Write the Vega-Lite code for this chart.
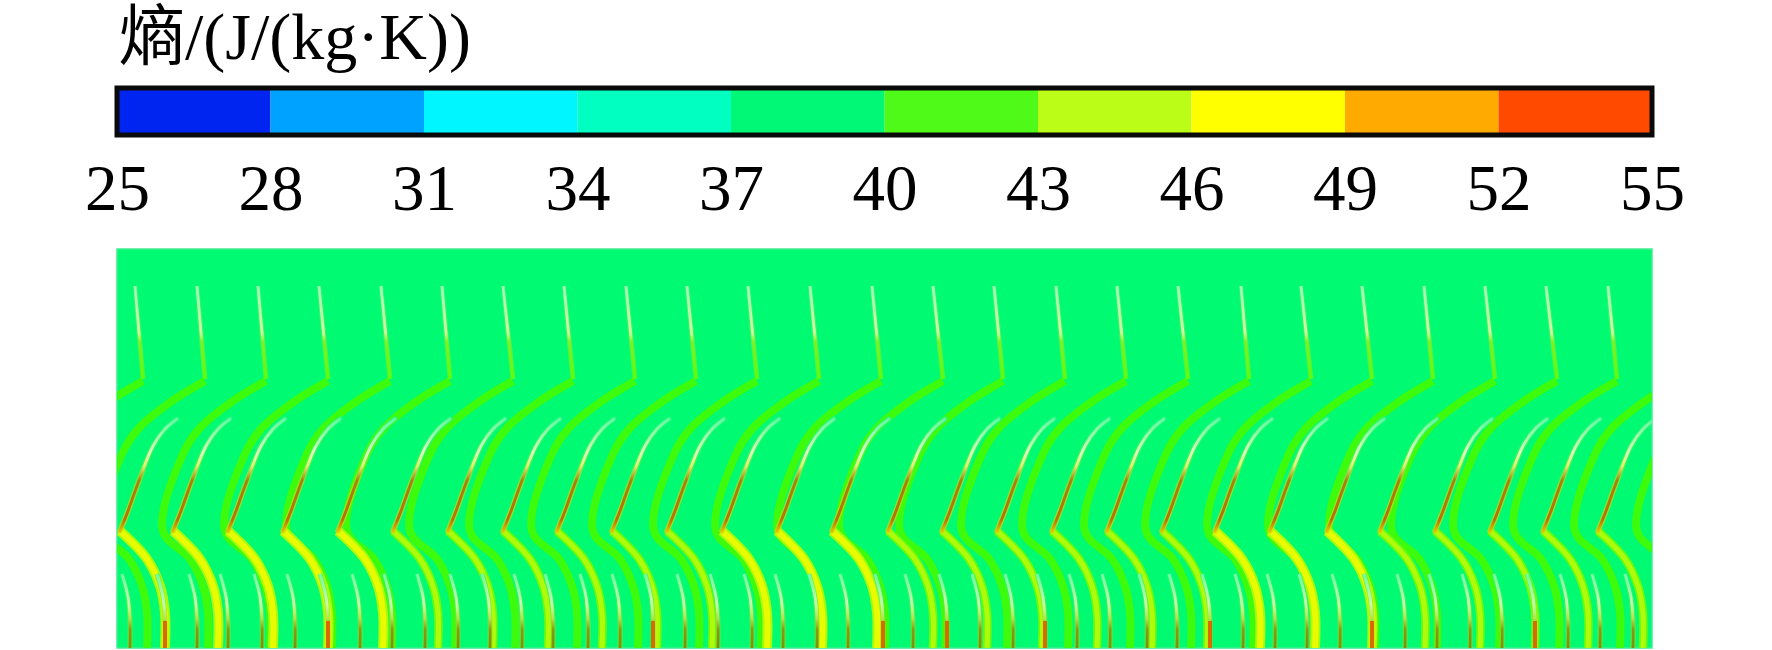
{"$schema":"https://vega.github.io/schema/vega-lite/v6.json","background":"white","padding":{"left":84,"top":5,"right":5,"bottom":2},"bounds":"flush","spacing":114,"config":{"view":{"stroke":null}},
"datasets":{
"top":[
{"l":1,"x":135,"y":285},{"l":1,"x":143,"y":378},{"l":2,"x":197,"y":285},{"l":2,"x":205,"y":378},{"l":3,"x":258,"y":285},{"l":3,"x":266,"y":378},{"l":4,"x":319,"y":285},{"l":4,"x":328,"y":378},{"l":5,"x":381,"y":285},{"l":5,"x":390,"y":378},{"l":6,"x":442,"y":285},{"l":6,"x":450,"y":378},{"l":7,"x":503,"y":285},{"l":7,"x":513,"y":378},{"l":8,"x":564,"y":285},{"l":8,"x":573,"y":378},{"l":9,"x":626,"y":285},{"l":9,"x":635,"y":378},{"l":10,"x":687,"y":285},{"l":10,"x":696,"y":378},{"l":11,"x":748,"y":285},{"l":11,"x":757,"y":378},{"l":12,"x":810,"y":285},{"l":12,"x":819,"y":378},{"l":13,"x":872,"y":285},{"l":13,"x":881,"y":378},{"l":14,"x":933,"y":285},{"l":14,"x":943,"y":378},{"l":15,"x":994,"y":285},{"l":15,"x":1003,"y":378},{"l":16,"x":1056,"y":285},{"l":16,"x":1065,"y":378},{"l":17,"x":1117,"y":285},{"l":17,"x":1126,"y":378},{"l":18,"x":1178,"y":285},{"l":18,"x":1188,"y":378},{"l":19,"x":1241,"y":285},{"l":19,"x":1249,"y":378},{"l":20,"x":1301,"y":285},{"l":20,"x":1311,"y":378},{"l":21,"x":1362,"y":285},{"l":21,"x":1372,"y":378},{"l":22,"x":1424,"y":285},{"l":22,"x":1433,"y":378},{"l":23,"x":1485,"y":285},{"l":23,"x":1495,"y":378},{"l":24,"x":1546,"y":285},{"l":24,"x":1557,"y":378},{"l":25,"x":1608,"y":285},{"l":25,"x":1617,"y":378}],
"wake":[
{"l":1,"x":143,"y":380},{"l":1,"x":110,"y":400},{"l":1,"x":77,"y":427},{"l":1,"x":60,"y":453},{"l":1,"x":40,"y":530},{"l":1,"x":67,"y":558},{"l":1,"x":80,"y":585},{"l":1,"x":85,"y":612},{"l":1,"x":85,"y":647},
{"l":2,"x":205,"y":380},{"l":2,"x":172,"y":400},{"l":2,"x":139,"y":427},{"l":2,"x":122,"y":453},{"l":2,"x":102,"y":530},{"l":2,"x":129,"y":558},{"l":2,"x":142,"y":585},{"l":2,"x":147,"y":612},{"l":2,"x":147,"y":647},
{"l":3,"x":266,"y":380},{"l":3,"x":233,"y":400},{"l":3,"x":200,"y":427},{"l":3,"x":183,"y":453},{"l":3,"x":163,"y":530},{"l":3,"x":190,"y":558},{"l":3,"x":203,"y":585},{"l":3,"x":208,"y":612},{"l":3,"x":208,"y":647},
{"l":4,"x":328,"y":380},{"l":4,"x":295,"y":400},{"l":4,"x":262,"y":427},{"l":4,"x":245,"y":453},{"l":4,"x":225,"y":530},{"l":4,"x":252,"y":558},{"l":4,"x":265,"y":585},{"l":4,"x":270,"y":612},{"l":4,"x":270,"y":647},
{"l":5,"x":390,"y":380},{"l":5,"x":357,"y":400},{"l":5,"x":324,"y":427},{"l":5,"x":307,"y":453},{"l":5,"x":287,"y":530},{"l":5,"x":314,"y":558},{"l":5,"x":327,"y":585},{"l":5,"x":332,"y":612},{"l":5,"x":332,"y":647},
{"l":6,"x":450,"y":380},{"l":6,"x":417,"y":400},{"l":6,"x":384,"y":427},{"l":6,"x":367,"y":453},{"l":6,"x":347,"y":530},{"l":6,"x":374,"y":558},{"l":6,"x":387,"y":585},{"l":6,"x":392,"y":612},{"l":6,"x":392,"y":647},
{"l":7,"x":513,"y":380},{"l":7,"x":480,"y":400},{"l":7,"x":447,"y":427},{"l":7,"x":430,"y":453},{"l":7,"x":410,"y":530},{"l":7,"x":437,"y":558},{"l":7,"x":450,"y":585},{"l":7,"x":455,"y":612},{"l":7,"x":455,"y":647},
{"l":8,"x":573,"y":380},{"l":8,"x":540,"y":400},{"l":8,"x":507,"y":427},{"l":8,"x":490,"y":453},{"l":8,"x":470,"y":530},{"l":8,"x":497,"y":558},{"l":8,"x":510,"y":585},{"l":8,"x":515,"y":612},{"l":8,"x":515,"y":647},
{"l":9,"x":635,"y":380},{"l":9,"x":602,"y":400},{"l":9,"x":569,"y":427},{"l":9,"x":552,"y":453},{"l":9,"x":532,"y":530},{"l":9,"x":559,"y":558},{"l":9,"x":572,"y":585},{"l":9,"x":577,"y":612},{"l":9,"x":577,"y":647},
{"l":10,"x":696,"y":380},{"l":10,"x":663,"y":400},{"l":10,"x":630,"y":427},{"l":10,"x":613,"y":453},{"l":10,"x":593,"y":530},{"l":10,"x":620,"y":558},{"l":10,"x":633,"y":585},{"l":10,"x":638,"y":612},{"l":10,"x":638,"y":647},
{"l":11,"x":757,"y":380},{"l":11,"x":724,"y":400},{"l":11,"x":691,"y":427},{"l":11,"x":674,"y":453},{"l":11,"x":654,"y":530},{"l":11,"x":681,"y":558},{"l":11,"x":694,"y":585},{"l":11,"x":699,"y":612},{"l":11,"x":699,"y":647},
{"l":12,"x":819,"y":380},{"l":12,"x":786,"y":400},{"l":12,"x":753,"y":427},{"l":12,"x":736,"y":453},{"l":12,"x":716,"y":530},{"l":12,"x":743,"y":558},{"l":12,"x":756,"y":585},{"l":12,"x":761,"y":612},{"l":12,"x":761,"y":647},
{"l":13,"x":881,"y":380},{"l":13,"x":848,"y":400},{"l":13,"x":815,"y":427},{"l":13,"x":798,"y":453},{"l":13,"x":778,"y":530},{"l":13,"x":805,"y":558},{"l":13,"x":818,"y":585},{"l":13,"x":823,"y":612},{"l":13,"x":823,"y":647},
{"l":14,"x":943,"y":380},{"l":14,"x":910,"y":400},{"l":14,"x":877,"y":427},{"l":14,"x":860,"y":453},{"l":14,"x":840,"y":530},{"l":14,"x":867,"y":558},{"l":14,"x":880,"y":585},{"l":14,"x":885,"y":612},{"l":14,"x":885,"y":647},
{"l":15,"x":1003,"y":380},{"l":15,"x":970,"y":400},{"l":15,"x":937,"y":427},{"l":15,"x":920,"y":453},{"l":15,"x":900,"y":530},{"l":15,"x":927,"y":558},{"l":15,"x":940,"y":585},{"l":15,"x":945,"y":612},{"l":15,"x":945,"y":647},
{"l":16,"x":1065,"y":380},{"l":16,"x":1032,"y":400},{"l":16,"x":999,"y":427},{"l":16,"x":982,"y":453},{"l":16,"x":962,"y":530},{"l":16,"x":989,"y":558},{"l":16,"x":1002,"y":585},{"l":16,"x":1007,"y":612},{"l":16,"x":1007,"y":647},
{"l":17,"x":1126,"y":380},{"l":17,"x":1093,"y":400},{"l":17,"x":1060,"y":427},{"l":17,"x":1043,"y":453},{"l":17,"x":1023,"y":530},{"l":17,"x":1050,"y":558},{"l":17,"x":1063,"y":585},{"l":17,"x":1068,"y":612},{"l":17,"x":1068,"y":647},
{"l":18,"x":1188,"y":380},{"l":18,"x":1155,"y":400},{"l":18,"x":1122,"y":427},{"l":18,"x":1105,"y":453},{"l":18,"x":1085,"y":530},{"l":18,"x":1112,"y":558},{"l":18,"x":1125,"y":585},{"l":18,"x":1130,"y":612},{"l":18,"x":1130,"y":647},
{"l":19,"x":1249,"y":380},{"l":19,"x":1216,"y":400},{"l":19,"x":1183,"y":427},{"l":19,"x":1166,"y":453},{"l":19,"x":1146,"y":530},{"l":19,"x":1173,"y":558},{"l":19,"x":1186,"y":585},{"l":19,"x":1191,"y":612},{"l":19,"x":1191,"y":647},
{"l":20,"x":1311,"y":380},{"l":20,"x":1278,"y":400},{"l":20,"x":1245,"y":427},{"l":20,"x":1228,"y":453},{"l":20,"x":1208,"y":530},{"l":20,"x":1235,"y":558},{"l":20,"x":1248,"y":585},{"l":20,"x":1253,"y":612},{"l":20,"x":1253,"y":647},
{"l":21,"x":1372,"y":380},{"l":21,"x":1339,"y":400},{"l":21,"x":1306,"y":427},{"l":21,"x":1289,"y":453},{"l":21,"x":1269,"y":530},{"l":21,"x":1296,"y":558},{"l":21,"x":1309,"y":585},{"l":21,"x":1314,"y":612},{"l":21,"x":1314,"y":647},
{"l":22,"x":1433,"y":380},{"l":22,"x":1400,"y":400},{"l":22,"x":1367,"y":427},{"l":22,"x":1350,"y":453},{"l":22,"x":1330,"y":530},{"l":22,"x":1357,"y":558},{"l":22,"x":1370,"y":585},{"l":22,"x":1375,"y":612},{"l":22,"x":1375,"y":647},
{"l":23,"x":1495,"y":380},{"l":23,"x":1462,"y":400},{"l":23,"x":1429,"y":427},{"l":23,"x":1412,"y":453},{"l":23,"x":1392,"y":530},{"l":23,"x":1419,"y":558},{"l":23,"x":1432,"y":585},{"l":23,"x":1437,"y":612},{"l":23,"x":1437,"y":647},
{"l":24,"x":1557,"y":380},{"l":24,"x":1524,"y":400},{"l":24,"x":1491,"y":427},{"l":24,"x":1474,"y":453},{"l":24,"x":1454,"y":530},{"l":24,"x":1481,"y":558},{"l":24,"x":1494,"y":585},{"l":24,"x":1499,"y":612},{"l":24,"x":1499,"y":647},
{"l":25,"x":1617,"y":380},{"l":25,"x":1584,"y":400},{"l":25,"x":1551,"y":427},{"l":25,"x":1534,"y":453},{"l":25,"x":1514,"y":530},{"l":25,"x":1541,"y":558},{"l":25,"x":1554,"y":585},{"l":25,"x":1559,"y":612},{"l":25,"x":1559,"y":647},
{"l":26,"x":1678,"y":380},{"l":26,"x":1645,"y":400},{"l":26,"x":1612,"y":427},{"l":26,"x":1595,"y":453},{"l":26,"x":1575,"y":530},{"l":26,"x":1602,"y":558},{"l":26,"x":1615,"y":585},{"l":26,"x":1620,"y":612},{"l":26,"x":1620,"y":647},
{"l":27,"x":1740,"y":380},{"l":27,"x":1707,"y":400},{"l":27,"x":1674,"y":427},{"l":27,"x":1657,"y":453},{"l":27,"x":1637,"y":530},{"l":27,"x":1664,"y":558},{"l":27,"x":1677,"y":585},{"l":27,"x":1682,"y":612},{"l":27,"x":1682,"y":647}],
"strong":[
{"l":1,"x":120,"y":530},{"l":1,"x":147,"y":558},{"l":1,"x":160,"y":585},{"l":1,"x":165,"y":612},{"l":1,"x":165,"y":647},
{"l":2,"x":173,"y":530},{"l":2,"x":200,"y":558},{"l":2,"x":213,"y":585},{"l":2,"x":218,"y":612},{"l":2,"x":218,"y":647},
{"l":3,"x":228,"y":530},{"l":3,"x":255,"y":558},{"l":3,"x":268,"y":585},{"l":3,"x":273,"y":612},{"l":3,"x":273,"y":647},
{"l":4,"x":283,"y":530},{"l":4,"x":310,"y":558},{"l":4,"x":323,"y":585},{"l":4,"x":328,"y":612},{"l":4,"x":328,"y":647},
{"l":5,"x":338,"y":530},{"l":5,"x":365,"y":558},{"l":5,"x":378,"y":585},{"l":5,"x":383,"y":612},{"l":5,"x":383,"y":647},
{"l":6,"x":722,"y":530},{"l":6,"x":749,"y":558},{"l":6,"x":762,"y":585},{"l":6,"x":767,"y":612},{"l":6,"x":767,"y":647},
{"l":7,"x":777,"y":530},{"l":7,"x":804,"y":558},{"l":7,"x":817,"y":585},{"l":7,"x":822,"y":612},{"l":7,"x":822,"y":647},
{"l":8,"x":832,"y":530},{"l":8,"x":859,"y":558},{"l":8,"x":872,"y":585},{"l":8,"x":877,"y":612},{"l":8,"x":877,"y":647},
{"l":9,"x":1215,"y":530},{"l":9,"x":1242,"y":558},{"l":9,"x":1255,"y":585},{"l":9,"x":1260,"y":612},{"l":9,"x":1260,"y":647},
{"l":10,"x":1270,"y":530},{"l":10,"x":1297,"y":558},{"l":10,"x":1310,"y":585},{"l":10,"x":1315,"y":612},{"l":10,"x":1315,"y":647},
{"l":11,"x":1327,"y":530},{"l":11,"x":1354,"y":558},{"l":11,"x":1367,"y":585},{"l":11,"x":1372,"y":612},{"l":11,"x":1372,"y":647}],
"weak":[
{"l":1,"x":393,"y":530},{"l":1,"x":420,"y":558},{"l":1,"x":433,"y":585},{"l":1,"x":438,"y":612},{"l":1,"x":438,"y":647},
{"l":2,"x":448,"y":530},{"l":2,"x":475,"y":558},{"l":2,"x":488,"y":585},{"l":2,"x":493,"y":612},{"l":2,"x":493,"y":647},
{"l":3,"x":503,"y":530},{"l":3,"x":530,"y":558},{"l":3,"x":543,"y":585},{"l":3,"x":548,"y":612},{"l":3,"x":548,"y":647},
{"l":4,"x":557,"y":530},{"l":4,"x":584,"y":558},{"l":4,"x":597,"y":585},{"l":4,"x":602,"y":612},{"l":4,"x":602,"y":647},
{"l":5,"x":612,"y":530},{"l":5,"x":639,"y":558},{"l":5,"x":652,"y":585},{"l":5,"x":657,"y":612},{"l":5,"x":657,"y":647},
{"l":6,"x":667,"y":530},{"l":6,"x":694,"y":558},{"l":6,"x":707,"y":585},{"l":6,"x":712,"y":612},{"l":6,"x":712,"y":647},
{"l":7,"x":888,"y":530},{"l":7,"x":915,"y":558},{"l":7,"x":928,"y":585},{"l":7,"x":933,"y":612},{"l":7,"x":933,"y":647},
{"l":8,"x":942,"y":530},{"l":8,"x":969,"y":558},{"l":8,"x":982,"y":585},{"l":8,"x":987,"y":612},{"l":8,"x":987,"y":647},
{"l":9,"x":997,"y":530},{"l":9,"x":1024,"y":558},{"l":9,"x":1037,"y":585},{"l":9,"x":1042,"y":612},{"l":9,"x":1042,"y":647},
{"l":10,"x":1052,"y":530},{"l":10,"x":1079,"y":558},{"l":10,"x":1092,"y":585},{"l":10,"x":1097,"y":612},{"l":10,"x":1097,"y":647},
{"l":11,"x":1107,"y":530},{"l":11,"x":1134,"y":558},{"l":11,"x":1147,"y":585},{"l":11,"x":1152,"y":612},{"l":11,"x":1152,"y":647},
{"l":12,"x":1162,"y":530},{"l":12,"x":1189,"y":558},{"l":12,"x":1202,"y":585},{"l":12,"x":1207,"y":612},{"l":12,"x":1207,"y":647},
{"l":13,"x":1380,"y":530},{"l":13,"x":1407,"y":558},{"l":13,"x":1420,"y":585},{"l":13,"x":1425,"y":612},{"l":13,"x":1425,"y":647},
{"l":14,"x":1435,"y":530},{"l":14,"x":1462,"y":558},{"l":14,"x":1475,"y":585},{"l":14,"x":1480,"y":612},{"l":14,"x":1480,"y":647},
{"l":15,"x":1490,"y":530},{"l":15,"x":1517,"y":558},{"l":15,"x":1530,"y":585},{"l":15,"x":1535,"y":612},{"l":15,"x":1535,"y":647},
{"l":16,"x":1543,"y":530},{"l":16,"x":1570,"y":558},{"l":16,"x":1583,"y":585},{"l":16,"x":1588,"y":612},{"l":16,"x":1588,"y":647},
{"l":17,"x":1598,"y":530},{"l":17,"x":1625,"y":558},{"l":17,"x":1638,"y":585},{"l":17,"x":1643,"y":612},{"l":17,"x":1643,"y":647}],
"mid":[
{"l":1,"x":120,"y":530},{"l":1,"x":128,"y":510},{"l":1,"x":137,"y":485},{"l":1,"x":153,"y":445},{"l":1,"x":165,"y":428},{"l":1,"x":177,"y":418},
{"l":2,"x":173,"y":530},{"l":2,"x":181,"y":510},{"l":2,"x":190,"y":485},{"l":2,"x":206,"y":445},{"l":2,"x":218,"y":428},{"l":2,"x":230,"y":418},
{"l":3,"x":228,"y":530},{"l":3,"x":236,"y":510},{"l":3,"x":245,"y":485},{"l":3,"x":261,"y":445},{"l":3,"x":273,"y":428},{"l":3,"x":285,"y":418},
{"l":4,"x":283,"y":530},{"l":4,"x":291,"y":510},{"l":4,"x":300,"y":485},{"l":4,"x":316,"y":445},{"l":4,"x":328,"y":428},{"l":4,"x":340,"y":418},
{"l":5,"x":338,"y":530},{"l":5,"x":346,"y":510},{"l":5,"x":355,"y":485},{"l":5,"x":371,"y":445},{"l":5,"x":383,"y":428},{"l":5,"x":395,"y":418},
{"l":6,"x":393,"y":530},{"l":6,"x":401,"y":510},{"l":6,"x":410,"y":485},{"l":6,"x":426,"y":445},{"l":6,"x":438,"y":428},{"l":6,"x":450,"y":418},
{"l":7,"x":448,"y":530},{"l":7,"x":456,"y":510},{"l":7,"x":465,"y":485},{"l":7,"x":481,"y":445},{"l":7,"x":493,"y":428},{"l":7,"x":505,"y":418},
{"l":8,"x":503,"y":530},{"l":8,"x":511,"y":510},{"l":8,"x":520,"y":485},{"l":8,"x":536,"y":445},{"l":8,"x":548,"y":428},{"l":8,"x":560,"y":418},
{"l":9,"x":557,"y":530},{"l":9,"x":565,"y":510},{"l":9,"x":574,"y":485},{"l":9,"x":590,"y":445},{"l":9,"x":602,"y":428},{"l":9,"x":614,"y":418},
{"l":10,"x":612,"y":530},{"l":10,"x":620,"y":510},{"l":10,"x":629,"y":485},{"l":10,"x":645,"y":445},{"l":10,"x":657,"y":428},{"l":10,"x":669,"y":418},
{"l":11,"x":667,"y":530},{"l":11,"x":675,"y":510},{"l":11,"x":684,"y":485},{"l":11,"x":700,"y":445},{"l":11,"x":712,"y":428},{"l":11,"x":724,"y":418},
{"l":12,"x":722,"y":530},{"l":12,"x":730,"y":510},{"l":12,"x":739,"y":485},{"l":12,"x":755,"y":445},{"l":12,"x":767,"y":428},{"l":12,"x":779,"y":418},
{"l":13,"x":777,"y":530},{"l":13,"x":785,"y":510},{"l":13,"x":794,"y":485},{"l":13,"x":810,"y":445},{"l":13,"x":822,"y":428},{"l":13,"x":834,"y":418},
{"l":14,"x":832,"y":530},{"l":14,"x":840,"y":510},{"l":14,"x":849,"y":485},{"l":14,"x":865,"y":445},{"l":14,"x":877,"y":428},{"l":14,"x":889,"y":418},
{"l":15,"x":888,"y":530},{"l":15,"x":896,"y":510},{"l":15,"x":905,"y":485},{"l":15,"x":921,"y":445},{"l":15,"x":933,"y":428},{"l":15,"x":945,"y":418},
{"l":16,"x":942,"y":530},{"l":16,"x":950,"y":510},{"l":16,"x":959,"y":485},{"l":16,"x":975,"y":445},{"l":16,"x":987,"y":428},{"l":16,"x":999,"y":418},
{"l":17,"x":997,"y":530},{"l":17,"x":1005,"y":510},{"l":17,"x":1014,"y":485},{"l":17,"x":1030,"y":445},{"l":17,"x":1042,"y":428},{"l":17,"x":1054,"y":418},
{"l":18,"x":1052,"y":530},{"l":18,"x":1060,"y":510},{"l":18,"x":1069,"y":485},{"l":18,"x":1085,"y":445},{"l":18,"x":1097,"y":428},{"l":18,"x":1109,"y":418},
{"l":19,"x":1107,"y":530},{"l":19,"x":1115,"y":510},{"l":19,"x":1124,"y":485},{"l":19,"x":1140,"y":445},{"l":19,"x":1152,"y":428},{"l":19,"x":1164,"y":418},
{"l":20,"x":1162,"y":530},{"l":20,"x":1170,"y":510},{"l":20,"x":1179,"y":485},{"l":20,"x":1195,"y":445},{"l":20,"x":1207,"y":428},{"l":20,"x":1219,"y":418},
{"l":21,"x":1215,"y":530},{"l":21,"x":1223,"y":510},{"l":21,"x":1232,"y":485},{"l":21,"x":1248,"y":445},{"l":21,"x":1260,"y":428},{"l":21,"x":1272,"y":418},
{"l":22,"x":1270,"y":530},{"l":22,"x":1278,"y":510},{"l":22,"x":1287,"y":485},{"l":22,"x":1303,"y":445},{"l":22,"x":1315,"y":428},{"l":22,"x":1327,"y":418},
{"l":23,"x":1327,"y":530},{"l":23,"x":1335,"y":510},{"l":23,"x":1344,"y":485},{"l":23,"x":1360,"y":445},{"l":23,"x":1372,"y":428},{"l":23,"x":1384,"y":418},
{"l":24,"x":1380,"y":530},{"l":24,"x":1388,"y":510},{"l":24,"x":1397,"y":485},{"l":24,"x":1413,"y":445},{"l":24,"x":1425,"y":428},{"l":24,"x":1437,"y":418},
{"l":25,"x":1435,"y":530},{"l":25,"x":1443,"y":510},{"l":25,"x":1452,"y":485},{"l":25,"x":1468,"y":445},{"l":25,"x":1480,"y":428},{"l":25,"x":1492,"y":418},
{"l":26,"x":1490,"y":530},{"l":26,"x":1498,"y":510},{"l":26,"x":1507,"y":485},{"l":26,"x":1523,"y":445},{"l":26,"x":1535,"y":428},{"l":26,"x":1547,"y":418},
{"l":27,"x":1543,"y":530},{"l":27,"x":1551,"y":510},{"l":27,"x":1560,"y":485},{"l":27,"x":1576,"y":445},{"l":27,"x":1588,"y":428},{"l":27,"x":1600,"y":418},
{"l":28,"x":1598,"y":530},{"l":28,"x":1606,"y":510},{"l":28,"x":1615,"y":485},{"l":28,"x":1631,"y":445},{"l":28,"x":1643,"y":428},{"l":28,"x":1655,"y":418}],
"low":[
{"l":1,"x":122,"y":573},{"l":1,"x":128,"y":596},{"l":1,"x":130,"y":620},{"l":1,"x":130,"y":647},
{"l":2,"x":157,"y":573},{"l":2,"x":163,"y":596},{"l":2,"x":165,"y":620},{"l":2,"x":165,"y":647},
{"l":3,"x":189,"y":573},{"l":3,"x":195,"y":596},{"l":3,"x":197,"y":620},{"l":3,"x":197,"y":647},
{"l":4,"x":220,"y":573},{"l":4,"x":226,"y":596},{"l":4,"x":228,"y":620},{"l":4,"x":228,"y":647},
{"l":5,"x":254,"y":573},{"l":5,"x":260,"y":596},{"l":5,"x":262,"y":620},{"l":5,"x":262,"y":647},
{"l":6,"x":287,"y":573},{"l":6,"x":293,"y":596},{"l":6,"x":295,"y":620},{"l":6,"x":295,"y":647},
{"l":7,"x":320,"y":573},{"l":7,"x":326,"y":596},{"l":7,"x":328,"y":620},{"l":7,"x":328,"y":647},
{"l":8,"x":352,"y":573},{"l":8,"x":358,"y":596},{"l":8,"x":360,"y":620},{"l":8,"x":360,"y":647},
{"l":9,"x":384,"y":573},{"l":9,"x":390,"y":596},{"l":9,"x":392,"y":620},{"l":9,"x":392,"y":647},
{"l":10,"x":417,"y":573},{"l":10,"x":423,"y":596},{"l":10,"x":425,"y":620},{"l":10,"x":425,"y":647},
{"l":11,"x":450,"y":573},{"l":11,"x":456,"y":596},{"l":11,"x":458,"y":620},{"l":11,"x":458,"y":647},
{"l":12,"x":482,"y":573},{"l":12,"x":488,"y":596},{"l":12,"x":490,"y":620},{"l":12,"x":490,"y":647},
{"l":13,"x":514,"y":573},{"l":13,"x":520,"y":596},{"l":13,"x":522,"y":620},{"l":13,"x":522,"y":647},
{"l":14,"x":545,"y":573},{"l":14,"x":551,"y":596},{"l":14,"x":553,"y":620},{"l":14,"x":553,"y":647},
{"l":15,"x":580,"y":573},{"l":15,"x":586,"y":596},{"l":15,"x":588,"y":620},{"l":15,"x":588,"y":647},
{"l":16,"x":612,"y":573},{"l":16,"x":618,"y":596},{"l":16,"x":620,"y":620},{"l":16,"x":620,"y":647},
{"l":17,"x":645,"y":573},{"l":17,"x":651,"y":596},{"l":17,"x":653,"y":620},{"l":17,"x":653,"y":647},
{"l":18,"x":677,"y":573},{"l":18,"x":683,"y":596},{"l":18,"x":685,"y":620},{"l":18,"x":685,"y":647},
{"l":19,"x":710,"y":573},{"l":19,"x":716,"y":596},{"l":19,"x":718,"y":620},{"l":19,"x":718,"y":647},
{"l":20,"x":744,"y":573},{"l":20,"x":750,"y":596},{"l":20,"x":752,"y":620},{"l":20,"x":752,"y":647},
{"l":21,"x":775,"y":573},{"l":21,"x":781,"y":596},{"l":21,"x":783,"y":620},{"l":21,"x":783,"y":647},
{"l":22,"x":809,"y":573},{"l":22,"x":815,"y":596},{"l":22,"x":817,"y":620},{"l":22,"x":817,"y":647},
{"l":23,"x":840,"y":573},{"l":23,"x":846,"y":596},{"l":23,"x":848,"y":620},{"l":23,"x":848,"y":647},
{"l":24,"x":875,"y":573},{"l":24,"x":881,"y":596},{"l":24,"x":883,"y":620},{"l":24,"x":883,"y":647},
{"l":25,"x":905,"y":573},{"l":25,"x":911,"y":596},{"l":25,"x":913,"y":620},{"l":25,"x":913,"y":647},
{"l":26,"x":939,"y":573},{"l":26,"x":945,"y":596},{"l":26,"x":947,"y":620},{"l":26,"x":947,"y":647},
{"l":27,"x":972,"y":573},{"l":27,"x":978,"y":596},{"l":27,"x":980,"y":620},{"l":27,"x":980,"y":647},
{"l":28,"x":1005,"y":573},{"l":28,"x":1011,"y":596},{"l":28,"x":1013,"y":620},{"l":28,"x":1013,"y":647},
{"l":29,"x":1037,"y":573},{"l":29,"x":1043,"y":596},{"l":29,"x":1045,"y":620},{"l":29,"x":1045,"y":647},
{"l":30,"x":1069,"y":573},{"l":30,"x":1075,"y":596},{"l":30,"x":1077,"y":620},{"l":30,"x":1077,"y":647},
{"l":31,"x":1102,"y":573},{"l":31,"x":1108,"y":596},{"l":31,"x":1110,"y":620},{"l":31,"x":1110,"y":647},
{"l":32,"x":1139,"y":573},{"l":32,"x":1145,"y":596},{"l":32,"x":1147,"y":620},{"l":32,"x":1147,"y":647},
{"l":33,"x":1169,"y":573},{"l":33,"x":1175,"y":596},{"l":33,"x":1177,"y":620},{"l":33,"x":1177,"y":647},
{"l":34,"x":1202,"y":573},{"l":34,"x":1208,"y":596},{"l":34,"x":1210,"y":620},{"l":34,"x":1210,"y":647},
{"l":35,"x":1235,"y":573},{"l":35,"x":1241,"y":596},{"l":35,"x":1243,"y":620},{"l":35,"x":1243,"y":647},
{"l":36,"x":1267,"y":573},{"l":36,"x":1273,"y":596},{"l":36,"x":1275,"y":620},{"l":36,"x":1275,"y":647},
{"l":37,"x":1299,"y":573},{"l":37,"x":1305,"y":596},{"l":37,"x":1307,"y":620},{"l":37,"x":1307,"y":647},
{"l":38,"x":1332,"y":573},{"l":38,"x":1338,"y":596},{"l":38,"x":1340,"y":620},{"l":38,"x":1340,"y":647},
{"l":39,"x":1364,"y":573},{"l":39,"x":1370,"y":596},{"l":39,"x":1372,"y":620},{"l":39,"x":1372,"y":647},
{"l":40,"x":1397,"y":573},{"l":40,"x":1403,"y":596},{"l":40,"x":1405,"y":620},{"l":40,"x":1405,"y":647},
{"l":41,"x":1429,"y":573},{"l":41,"x":1435,"y":596},{"l":41,"x":1437,"y":620},{"l":41,"x":1437,"y":647},
{"l":42,"x":1462,"y":573},{"l":42,"x":1468,"y":596},{"l":42,"x":1470,"y":620},{"l":42,"x":1470,"y":647},
{"l":43,"x":1494,"y":573},{"l":43,"x":1500,"y":596},{"l":43,"x":1502,"y":620},{"l":43,"x":1502,"y":647},
{"l":44,"x":1527,"y":573},{"l":44,"x":1533,"y":596},{"l":44,"x":1535,"y":620},{"l":44,"x":1535,"y":647},
{"l":45,"x":1560,"y":573},{"l":45,"x":1566,"y":596},{"l":45,"x":1568,"y":620},{"l":45,"x":1568,"y":647},
{"l":46,"x":1592,"y":573},{"l":46,"x":1598,"y":596},{"l":46,"x":1600,"y":620},{"l":46,"x":1600,"y":647},
{"l":47,"x":1625,"y":573},{"l":47,"x":1631,"y":596},{"l":47,"x":1633,"y":620},{"l":47,"x":1633,"y":647}],
"hot":[
{"l":1,"x":165,"y":620},{"l":1,"x":165,"y":647},{"l":2,"x":328,"y":620},{"l":2,"x":328,"y":647},{"l":3,"x":653,"y":620},{"l":3,"x":653,"y":647},{"l":4,"x":883,"y":620},{"l":4,"x":883,"y":647},{"l":5,"x":947,"y":620},{"l":5,"x":947,"y":647},{"l":6,"x":1045,"y":620},{"l":6,"x":1045,"y":647},{"l":7,"x":1210,"y":620},{"l":7,"x":1210,"y":647},{"l":8,"x":1372,"y":620},{"l":8,"x":1372,"y":647},{"l":9,"x":1535,"y":620},{"l":9,"x":1535,"y":647}]
},
"vconcat":[{"width":1535,"height":47,"title":{"text":"熵/(J/(kg·K))","anchor":"start","frame":"group","dx":2,"font":"Liberation Serif, Noto Sans CJK SC","fontSize":66,"fontWeight":"normal","color":"black","offset":13},"layer":[{"data":{"values":[{"lo":25,"hi":28,"entropy":26.5},{"lo":28,"hi":31,"entropy":29.5},{"lo":31,"hi":34,"entropy":32.5},{"lo":34,"hi":37,"entropy":35.5},{"lo":37,"hi":40,"entropy":38.5},{"lo":40,"hi":43,"entropy":41.5},{"lo":43,"hi":46,"entropy":44.5},{"lo":46,"hi":49,"entropy":47.5},{"lo":49,"hi":52,"entropy":50.5},{"lo":52,"hi":55,"entropy":53.5}]},"mark":{"type":"rect"},"encoding":{"x":{"field":"lo","type":"quantitative","scale":{"domain":[25,55],"nice":false},"title":null,"axis":{"values":[25,28,31,34,37,40,43,46,49,52,55],"domain":false,"ticks":false,"grid":false,"labelFont":"Liberation Serif","labelFontSize":65,"labelColor":"black","labelPadding":74,"labelFlush":false,"labelOverlap":false,"labelBaseline":"alphabetic","labelAngle":0}},"x2":{"field":"hi"},"color":{"field":"entropy","type":"quantitative","legend":null,"scale":{"type":"threshold","domain":[28,31,34,37,40,43,46,49,52],"range":["#0025f0","#00a2ff","#00f6ff","#00ffc0","#00f876","#50fa18","#bcfd18","#ffff00","#ffaa00","#ff4a00"]}}}},{"data":{"values":[{"lo":25,"hi":55}]},"mark":{"type":"rect","fill":null,"stroke":"#0a0a0a","strokeWidth":5},"encoding":{"x":{"field":"lo","type":"quantitative"},"x2":{"field":"hi"}}}]},
{"width":1535,"height":399,"view":{"fill":"#00fa72","stroke":"#40ee90","strokeWidth":1.5},
"encoding":{"x":{"field":"x","type":"quantitative","scale":{"domain":[117,1652],"nice":false},"axis":null},"y":{"field":"y","type":"quantitative","scale":{"domain":[647,248],"nice":false},"axis":null},"detail":{"field":"l"},"order":{"field":"y"}},
"layer":[
{"data":{"name":"wake"},"mark":{"type":"line","clip":true,"interpolate":"catmull-rom","color":"#3cfb0c","strokeWidth":8,"strokeCap":"butt"}},
{"data":{"name":"weak"},"mark":{"type":"line","clip":true,"interpolate":"catmull-rom","color":"#68fb0c","strokeWidth":8.5,"strokeCap":"butt"}},
{"data":{"name":"weak"},"mark":{"type":"line","clip":true,"interpolate":"catmull-rom","color":"#b0fb0c","strokeWidth":5,"strokeCap":"butt"}},
{"data":{"name":"strong"},"mark":{"type":"line","clip":true,"interpolate":"catmull-rom","color":"#a8fb0c","strokeWidth":10,"strokeCap":"butt"}},
{"data":{"name":"strong"},"mark":{"type":"line","clip":true,"interpolate":"catmull-rom","color":"#e8fb00","strokeWidth":6,"strokeCap":"butt"}},
{"data":{"name":"mid"},"mark":{"type":"line","clip":true,"interpolate":"catmull-rom","strokeWidth":5.5,"opacity":0.7,"strokeCap":"round","color":{"gradient":"linear","x1":0,"y1":0,"x2":0,"y2":1,"stops":[{"offset":0,"color":"#20f880"},{"offset":0.45,"color":"#70f040"},{"offset":0.6,"color":"#b8e010"},{"offset":1,"color":"#d0d810"}]}}},
{"data":{"name":"mid"},"mark":{"type":"line","clip":true,"interpolate":"catmull-rom","strokeWidth":2.8,"strokeCap":"round","color":{"gradient":"linear","x1":0,"y1":0,"x2":0,"y2":1,"stops":[{"offset":0,"color":"#60f8a0"},{"offset":0.3,"color":"#dcffc0"},{"offset":0.42,"color":"#e0f070"},{"offset":0.55,"color":"#a88010"},{"offset":0.9,"color":"#b87008"},{"offset":1,"color":"#e0c000"}]}}},
{"data":{"name":"low"},"mark":{"type":"line","clip":true,"interpolate":"catmull-rom","strokeWidth":5,"opacity":0.6,"strokeCap":"butt","color":{"gradient":"linear","x1":0,"y1":0,"x2":0,"y2":1,"stops":[{"offset":0,"color":"#20f880"},{"offset":0.5,"color":"#70f040"},{"offset":1,"color":"#a8d810"}]}}},
{"data":{"name":"low"},"mark":{"type":"line","clip":true,"interpolate":"catmull-rom","strokeWidth":2.8,"strokeCap":"butt","color":{"gradient":"linear","x1":0,"y1":0,"x2":0,"y2":1,"stops":[{"offset":0,"color":"#70ffa0"},{"offset":0.4,"color":"#c8ffb0"},{"offset":0.6,"color":"#b8e050"},{"offset":0.75,"color":"#8a9a10"},{"offset":1,"color":"#7a9010"}]}}},
{"data":{"name":"top"},"mark":{"type":"line","clip":true,"strokeWidth":5,"opacity":0.7,"strokeCap":"butt","color":{"gradient":"linear","x1":0,"y1":0,"x2":0,"y2":1,"stops":[{"offset":0,"color":"#20f880"},{"offset":0.5,"color":"#60f060"},{"offset":1,"color":"#60fa10"}]}}},
{"data":{"name":"top"},"mark":{"type":"line","clip":true,"strokeWidth":2.8,"strokeCap":"butt","color":{"gradient":"linear","x1":0,"y1":0,"x2":0,"y2":1,"stops":[{"offset":0,"color":"#a0ffb0"},{"offset":0.5,"color":"#d0ffa0"},{"offset":0.6,"color":"#80f020"},{"offset":1,"color":"#60fa10"}]}}},
{"data":{"name":"hot"},"mark":{"type":"line","clip":true,"color":"#d86a00","strokeWidth":4,"strokeCap":"butt"}}
]}]}
